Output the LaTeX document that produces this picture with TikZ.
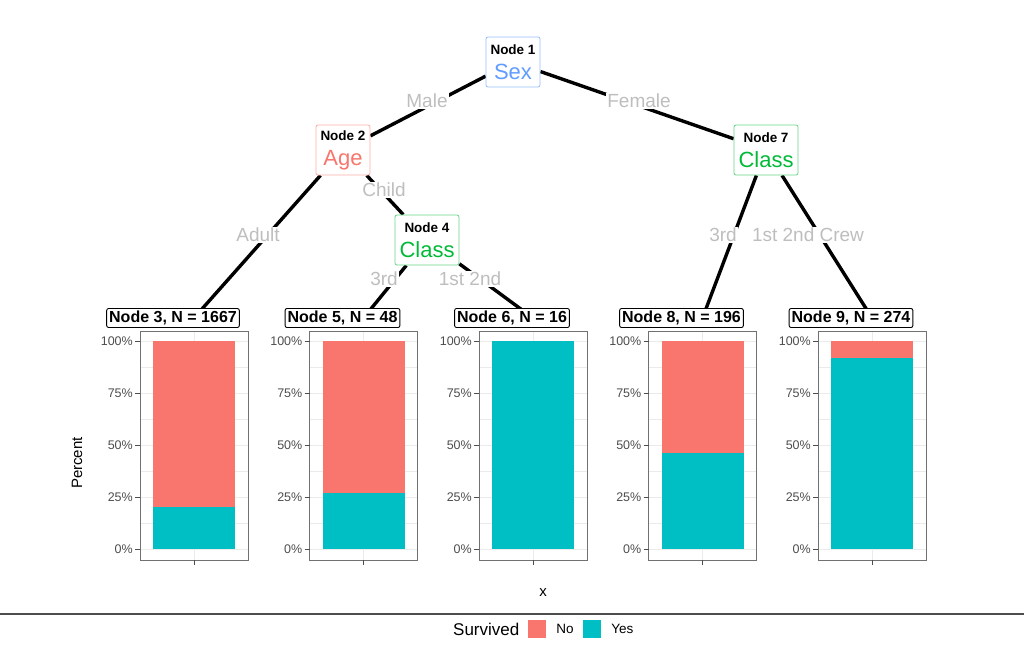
\documentclass[tikz,border=0pt]{standalone}
\usepackage{fontspec}
\setmainfont{Liberation Sans}
\usetikzlibrary{positioning,backgrounds}
\definecolor{ggred}{HTML}{F8766D}
\definecolor{ggteal}{HTML}{00BFC4}
\definecolor{ggblue}{HTML}{619CFF}
\definecolor{gggreen}{HTML}{00BA38}
\definecolor{gglab}{HTML}{BEBEBE}
\definecolor{gggrid}{HTML}{EBEBEB}
\definecolor{ggaxis}{HTML}{4D4D4D}
\tikzset{
split/.style = {draw, fill=white, rectangle, rounded corners=2pt, line width=0.8pt, align=center, inner sep=2.5pt, minimum width=54pt, minimum height=50pt, font=\fontsize{22}{25}\selectfont},
leaf/.style  = {draw, fill=white, rectangle, rounded corners=2pt, line width=0.9pt, inner sep=2.5pt, minimum height=19pt, font=\fontsize{16}{16}\selectfont\bfseries},
lab/.style   = {fill=white, text=gglab, inner sep=1pt, font=\fontsize{19}{19}\selectfont},
edge/.style  = {line width=3.4pt, black},
tick/.style  = {font=\fontsize{12.5}{12.5}\selectfont, text=ggaxis, anchor=east, inner sep=0pt},
tmp/.style   = {coordinate}
}
\newcommand{\splittext}[2]{{\fontsize{13.5}{15}\selectfont\bfseries\color{black}#1}\\#2}
\begin{document}
\begin{tikzpicture}[x=1pt, y=-1pt]
\useasboundingbox (0,0) rectangle (1024,659);
% inner nodes
\node[split, draw=ggblue!65, text=ggblue] (n1) at (513,62) {\splittext{Node 1}{Sex}};
\node[split, draw=ggred!60, text=ggred] (n2) at (343,150) {\splittext{Node 2}{Age}};
\node[split, draw=gggreen!60, text=gggreen, minimum width=64pt] (n4) at (427,240) {\splittext{Node 4}{Class}};
\node[split, draw=gggreen!60, text=gggreen, minimum width=64pt] (n7) at (766,150) {\splittext{Node 7}{Class}};
% terminal nodes and their panels
\foreach \id/\px/\yes/\num in {3/140/0.20/1667, 5/309.5/0.27/48, 6/479/1.0/16, 8/648.5/0.46/196, 9/818/0.92/274}{
  \begin{scope}[shift={(\px,0)}]
    \foreach \f in {0.125,0.375,0.625,0.875}
      \draw[gggrid, line width=0.5pt] (0,549-208*\f) -- (108,549-208*\f);
    \foreach \f in {0,0.25,0.5,0.75,1}
      \draw[gggrid, line width=1pt] (0,549-208*\f) -- (108,549-208*\f);
    \draw[gggrid, line width=1pt] (54,331) -- (54,560);
    \fill[ggred] (13,341) rectangle (95,549-208*\yes);
    \fill[ggteal] (13,549-208*\yes) rectangle (95,549);
    \draw[ggaxis!80, line width=0.9pt] (0,331) rectangle (108,560);
    \foreach \f/\t in {0/0\%,0.25/25\%,0.5/50\%,0.75/75\%,1/100\%}{
      \draw[ggaxis, line width=0.9pt] (-5,549-208*\f) -- (0,549-208*\f);
      \node[tick] at (-7,549-208*\f) {\t};
    }
    \draw[ggaxis, line width=0.9pt] (54,560) -- (54,565);
    \node[tmp] (t\id) at (54,318) {};
  \end{scope}
  \node[leaf] (n\id) at (\px+33,318) {Node \id, N = \num};
}
% connectors
\begin{pgfonlayer}{background}
\draw[edge] (n1) -- (n2);
\draw[edge] (n1) -- (n7);
\draw[edge] (n2) -- (t3);
\draw[edge] (n2) -- (n4);
\draw[edge] (n4) -- (t5);
\draw[edge] (n4) -- (t6);
\draw[edge] (n7) -- (t8);
\draw[edge] (n7) -- (t9);
\end{pgfonlayer}
% edge labels
\node[lab] (lmale) at (427,101) {Male};
\node[lab] (lfemale) at (639,101) {Female};
\node[lab] (ladult) at (258,235) {Adult};
\node[lab] (lchild) at (384,190) {Child};
\node[lab] (lthird) at (384,279) {3rd};
\node[lab] (lfirst) at (470,279) {1st 2nd};
\node[lab] (lthirdb) at (723,235) {3rd};
\node[lab] (lcrew) at (808,235) {1st 2nd Crew};
% axes and legend
\node[rotate=90, font=\fontsize{15}{15}\selectfont] (ylab) at (77,463) {Percent};
\node[font=\fontsize{15}{15}\selectfont] (xlab) at (543,593) {x};
\draw[ggaxis, line width=1.2pt] (0,614) -- (1024,614);
\node[anchor=west, inner sep=0pt, font=\fontsize{17}{17}\selectfont] (ltitle) at (453,629) {Survived};
\node[fill=ggred, minimum size=18pt, inner sep=0pt] (kno) at (537,629) {};
\node[right=10pt of kno, inner sep=0pt, font=\fontsize{13.5}{13.5}\selectfont] (lno) {No};
\node[fill=ggteal, minimum size=18pt, inner sep=0pt] (kyes) at (592,629) {};
\node[right=10pt of kyes, inner sep=0pt, font=\fontsize{13.5}{13.5}\selectfont] (lyes) {Yes};
\end{tikzpicture}
\end{document}
